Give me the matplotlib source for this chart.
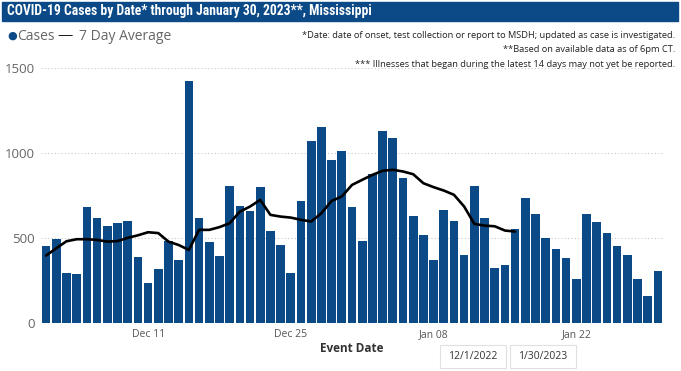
import matplotlib
matplotlib.use("Agg")
import matplotlib.pyplot as plt
from matplotlib import font_manager
from matplotlib.patches import Rectangle
import numpy as np

# data (Dec 1, 2022 .. Jan 30, 2023)
cases = [453, 498, 296, 288, 684, 621, 572, 590, 600, 388,
         235, 318, 484, 372, 1423, 617, 476, 394, 808, 690,
         660, 800, 543, 459, 296, 717, 1072, 1153, 960, 1011,
         684, 482, 876, 1129, 1090, 855, 629, 516, 370, 665,
         602, 400, 808, 621, 323, 345, 553, 735, 645, 504,
         437, 386, 261, 643, 594, 533, 453, 402, 261, 161,
         306]
avg7 = [398, 441, 482, 494, 494, 490, 480, 483, 502, 517,
        535, 530, 480, 460, 431, 549, 549, 565, 588, 656,
        686, 725, 637, 627, 621, 608, 598, 647, 719, 745,
        813, 843, 872, 896, 902, 892, 876, 823, 800, 780,
        755, 686, 584, 574, 570, 545, 539]
tick_pos = [10, 24, 38, 52]
tick_labels = ["Dec 11", "Dec 25", "Jan 08", "Jan 22"]
y_ticks = [0, 500, 1000, 1500]

BLUE = "#0b4a86"
GREY = "#666666"


def pick(names):
    for n in names:
        try:
            font_manager.findfont(n, fallback_to_default=False)
            return n
        except Exception:
            pass
    return None


body_font = pick(["Open Sans", "Noto Sans"]) or "DejaVu Sans"
narrow = pick(["Roboto Condensed", "Noto Sans Condensed", "Open Sans Condensed",
               "DejaVu Sans Condensed", "Liberation Sans Narrow"])
if narrow:
    title_font, title_size = narrow, 9.8
else:
    title_font, title_size = "Roboto", 8.8
plt.rcParams["font.family"] = [body_font, "DejaVu Sans"]

fig = plt.figure(figsize=(6.81, 3.71), dpi=100)
W, H = 681, 371

# title band
fig.patches.append(Rectangle((2 / W, 1 - 21 / H), 676 / W, 19 / H,
                             transform=fig.transFigure, color=BLUE, zorder=0))
fig.text(7 / W, 1 - 11.5 / H, "COVID-19 Cases by Date* through January 30, 2023**, Mississippi",
         color="white", fontsize=title_size, fontweight="bold", family=[title_font, "DejaVu Sans"],
         va="center", ha="left")

# legend row
fig.text(7 / W, 1 - 36 / H, "\u25cf", color=BLUE, fontsize=8, va="center", ha="left",
         family=["DejaVu Sans"])
fig.text(17 / W, 1 - 36 / H, "Cases", color=GREY, fontsize=10, va="center", ha="left")
fig.text(57 / W, 1 - 36 / H, "\u2014", color="#222222", fontsize=11, va="center", ha="left")
fig.text(79 / W, 1 - 36 / H, "7 Day Average", color=GREY, fontsize=10, va="center", ha="left")

# notes
notes = ["*Date: date of onset, test collection or report to MSDH; updated as case is investigated.",
         "**Based on available data as of 6pm CT.",
         "*** Illnesses that began during the latest 14 days may not yet be reported."]
for i, s in enumerate(notes):
    fig.text(675 / W, 1 - (35.5 + 14.3 * i) / H, s, color="#222222", fontsize=6.7,
             va="center", ha="right")

ax = fig.add_axes([41 / W, 1 - 323.3 / H, 622 / W, 255.3 / H])
x = np.arange(len(cases))
ax.bar(x, cases, width=0.85, color=BLUE, zorder=2)
ax.plot(np.arange(len(avg7)), avg7, color="black", linewidth=1.9, zorder=3,
        solid_capstyle="round", solid_joinstyle="round")

ax.set_xlim(-0.5, len(cases) - 0.5)
ax.set_ylim(0, 1500)
ax.set_yticks(y_ticks)
ax.set_yticklabels([str(v) for v in y_ticks])
ax.set_xticks(tick_pos)
ax.set_xticklabels(tick_labels)
ax.tick_params(axis="y", length=0, pad=4.5, labelsize=9.5, labelcolor=GREY)
ax.tick_params(axis="x", length=0, pad=4, labelsize=7.5, labelcolor="#555555")
for v in y_ticks[1:]:
    ax.axhline(v, color="#c8c8c8", linewidth=0.8, linestyle=(0, (1, 2)), zorder=1)
for sp in ax.spines.values():
    sp.set_visible(False)

fig.text(352 / W, 1 - 349 / H, "Event Date", color="#333333", fontsize=8.5,
         fontweight="bold", va="center", ha="center")

# date range boxes
for (x0, x1, label) in [(440, 506, "12/1/2022"), (510, 576, "1/30/2023")]:
    fig.patches.append(Rectangle((x0 / W, 1 - 368 / H), (x1 - x0) / W, 23 / H,
                                 transform=fig.transFigure, facecolor="white",
                                 edgecolor="#e0e0e0", linewidth=0.8))
    fig.text((x0 + x1) / 2 / W, 1 - 356.5 / H, label, color="#333333", fontsize=7.5,
             va="center", ha="center")

fig.savefig("out.png", dpi=100, facecolor="white")
